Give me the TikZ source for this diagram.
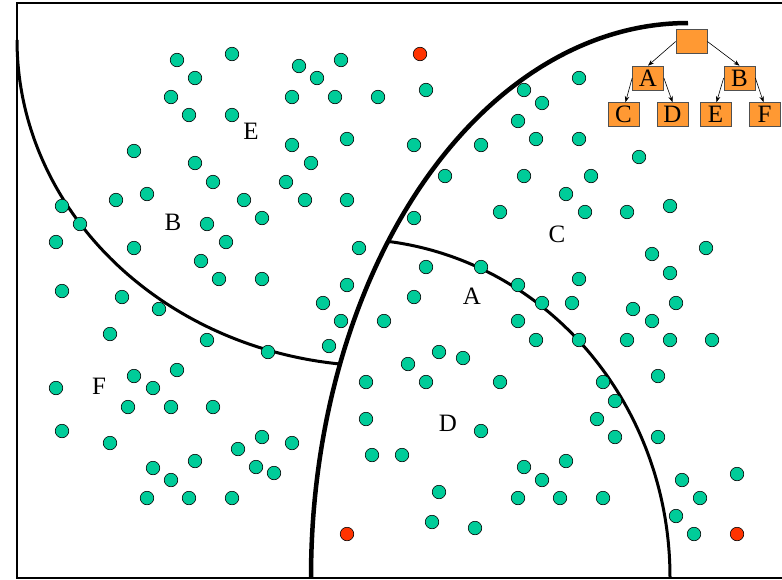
\documentclass[tikz,border=0pt]{standalone}
\usepackage{fontspec}
\setmainfont{Liberation Serif}
\usetikzlibrary{arrows.meta}
\definecolor{dotgreen}{RGB}{0,204,153}
\definecolor{dotred}{RGB}{255,51,0}
\definecolor{boxorange}{RGB}{255,153,51}
\definecolor{boxedge}{RGB}{80,80,80}
\begin{document}
\begin{tikzpicture}[x=1pt,y=-1pt,
  gdot/.style={circle,draw=black,line width=0.6pt,fill=dotgreen,minimum size=13.5pt,inner sep=0pt},
  rdot/.style={circle,draw=black,line width=0.6pt,fill=dotred,minimum size=13.5pt,inner sep=0pt},
  region/.style={inner sep=0pt,font=\fontsize{25}{29}\selectfont},
  tbox/.style={draw=boxedge,line width=0.7pt,fill=boxorange,minimum width=31pt,minimum height=24pt,inner sep=0pt,font=\fontsize{25}{29}\selectfont},
  tarrow/.style={line width=0.6pt,-{Stealth[length=6pt,width=4.5pt]}},
  thinarc/.style={line width=3pt},
  thickarc/.style={line width=4.5pt}]
\useasboundingbox (0,0) rectangle (782,579);
\fill[white] (0,0) rectangle (782,579);
% frame
\draw[line width=2.2pt] (800,3) -- (17,3) -- (17,578) -- (800,578);
% outer thick arc
\draw[thickarc] plot[domain=90:180,samples=150] ({688+377*cos(\x)},{577-554*sin(\x)});
% left arc
\draw[thinarc] plot[domain=96.3:180,samples=150] ({380+363*cos(\x)},{40+326*sin(\x)});
% inner arc, clipped to the inside of the outer arc
\begin{scope}
\clip (688,0) -- plot[domain=90:180,samples=150] ({688+377*cos(\x)},{577-554*sin(\x)}) -- (311,600) -- (800,600) -- (800,0) -- cycle;
\draw[thinarc] plot[domain=0:100,samples=150] ({350+320*cos(\x)},{577-338*sin(\x)});
\end{scope}
% green dots
\foreach \p [count=\i] in {
(177,60),(232,54),(195,78),(171,97),(189,115),(232,115),(299,66),(341,60),(317,78),(292,97),(335,97),(378,97),
(134,151),(195,163),(213,182),(292,145),(347,139),(311,163),(286,182),
(116,200),(147,194),(244,200),(305,200),(347,200),
(62,206),(80,224),(56,242),(134,248),(207,224),(262,218),(226,242),(201,261),(219,279),(262,279),(359,248),(347,285),
(62,291),(122,297),(159,309),(323,303),(341,321),(110,334),(207,340),(268,352),(329,346),
(56,388),(134,376),(177,370),(153,388),(128,407),(171,407),(213,407),
(62,431),(110,443),(238,449),(262,437),(292,443),(153,468),(195,461),(256,467),(274,473),(171,480),(147,498),(189,498),(232,498),
(366,382),(366,419),(372,455),(402,455),(384,321),(414,297),(408,364),(439,352),(463,358),(426,382),(500,382),(481,431),
(524,467),(566,461),(542,480),(518,498),(560,498),(603,498),(439,492),(432,522),(475,528),
(426,90),(524,90),(542,103),(579,78),(518,121),(536,139),(579,139),(414,145),(481,145),(639,157),(445,176),(524,176),
(591,176),(566,194),(500,212),(585,212),(627,212),(670,206),(414,218),(652,254),(706,248),(670,273),(426,267),(481,267),
(579,279),(518,285),(542,303),(572,303),(633,309),(676,303),(518,321),(652,321),(536,340),(579,340),(627,340),(670,340),
(712,340),(603,382),(658,376),(615,401),(597,419),(615,437),(658,437),
(682,480),(700,498),(737,474),(676,516),(694,534)}
  \node[gdot] (g\i) at \p {};
% red dots
\node[rdot] (r1) at (420,54) {};
\node[rdot] (r2) at (347,534) {};
\node[rdot] (r3) at (737,534) {};
% region labels
\node[region] (lE) at (251,131) {E};
\node[region] (lB) at (173,222) {B};
\node[region] (lC) at (557,234) {C};
\node[region] (lA) at (472,296) {A};
\node[region] (lD) at (448,423) {D};
\node[region] (lF) at (99,386) {F};
% tree
\node[tbox] (root) at (691.5,41.5) {};
\node[tbox] (tA) at (648,78) {A};
\node[tbox] (tB) at (739.5,78) {B};
\node[tbox] (tC) at (623.5,114.5) {C};
\node[tbox] (tD) at (672.5,114.5) {D};
\node[tbox] (tE) at (715.5,114.5) {E};
\node[tbox] (tF) at (764.5,114.5) {F};
\draw[tarrow] (root.west) -- (tA.north);
\draw[tarrow] (root.east) -- (tB.north);
\draw[tarrow] (tA.west) -- ([xshift=2pt]tC.north);
\draw[tarrow] (tA.east) -- (tD.north);
\draw[tarrow] (tB.west) -- ([xshift=1pt]tE.north);
\draw[tarrow] (tB.east) -- ([xshift=-1pt]tF.north);
\end{tikzpicture}
\end{document}
